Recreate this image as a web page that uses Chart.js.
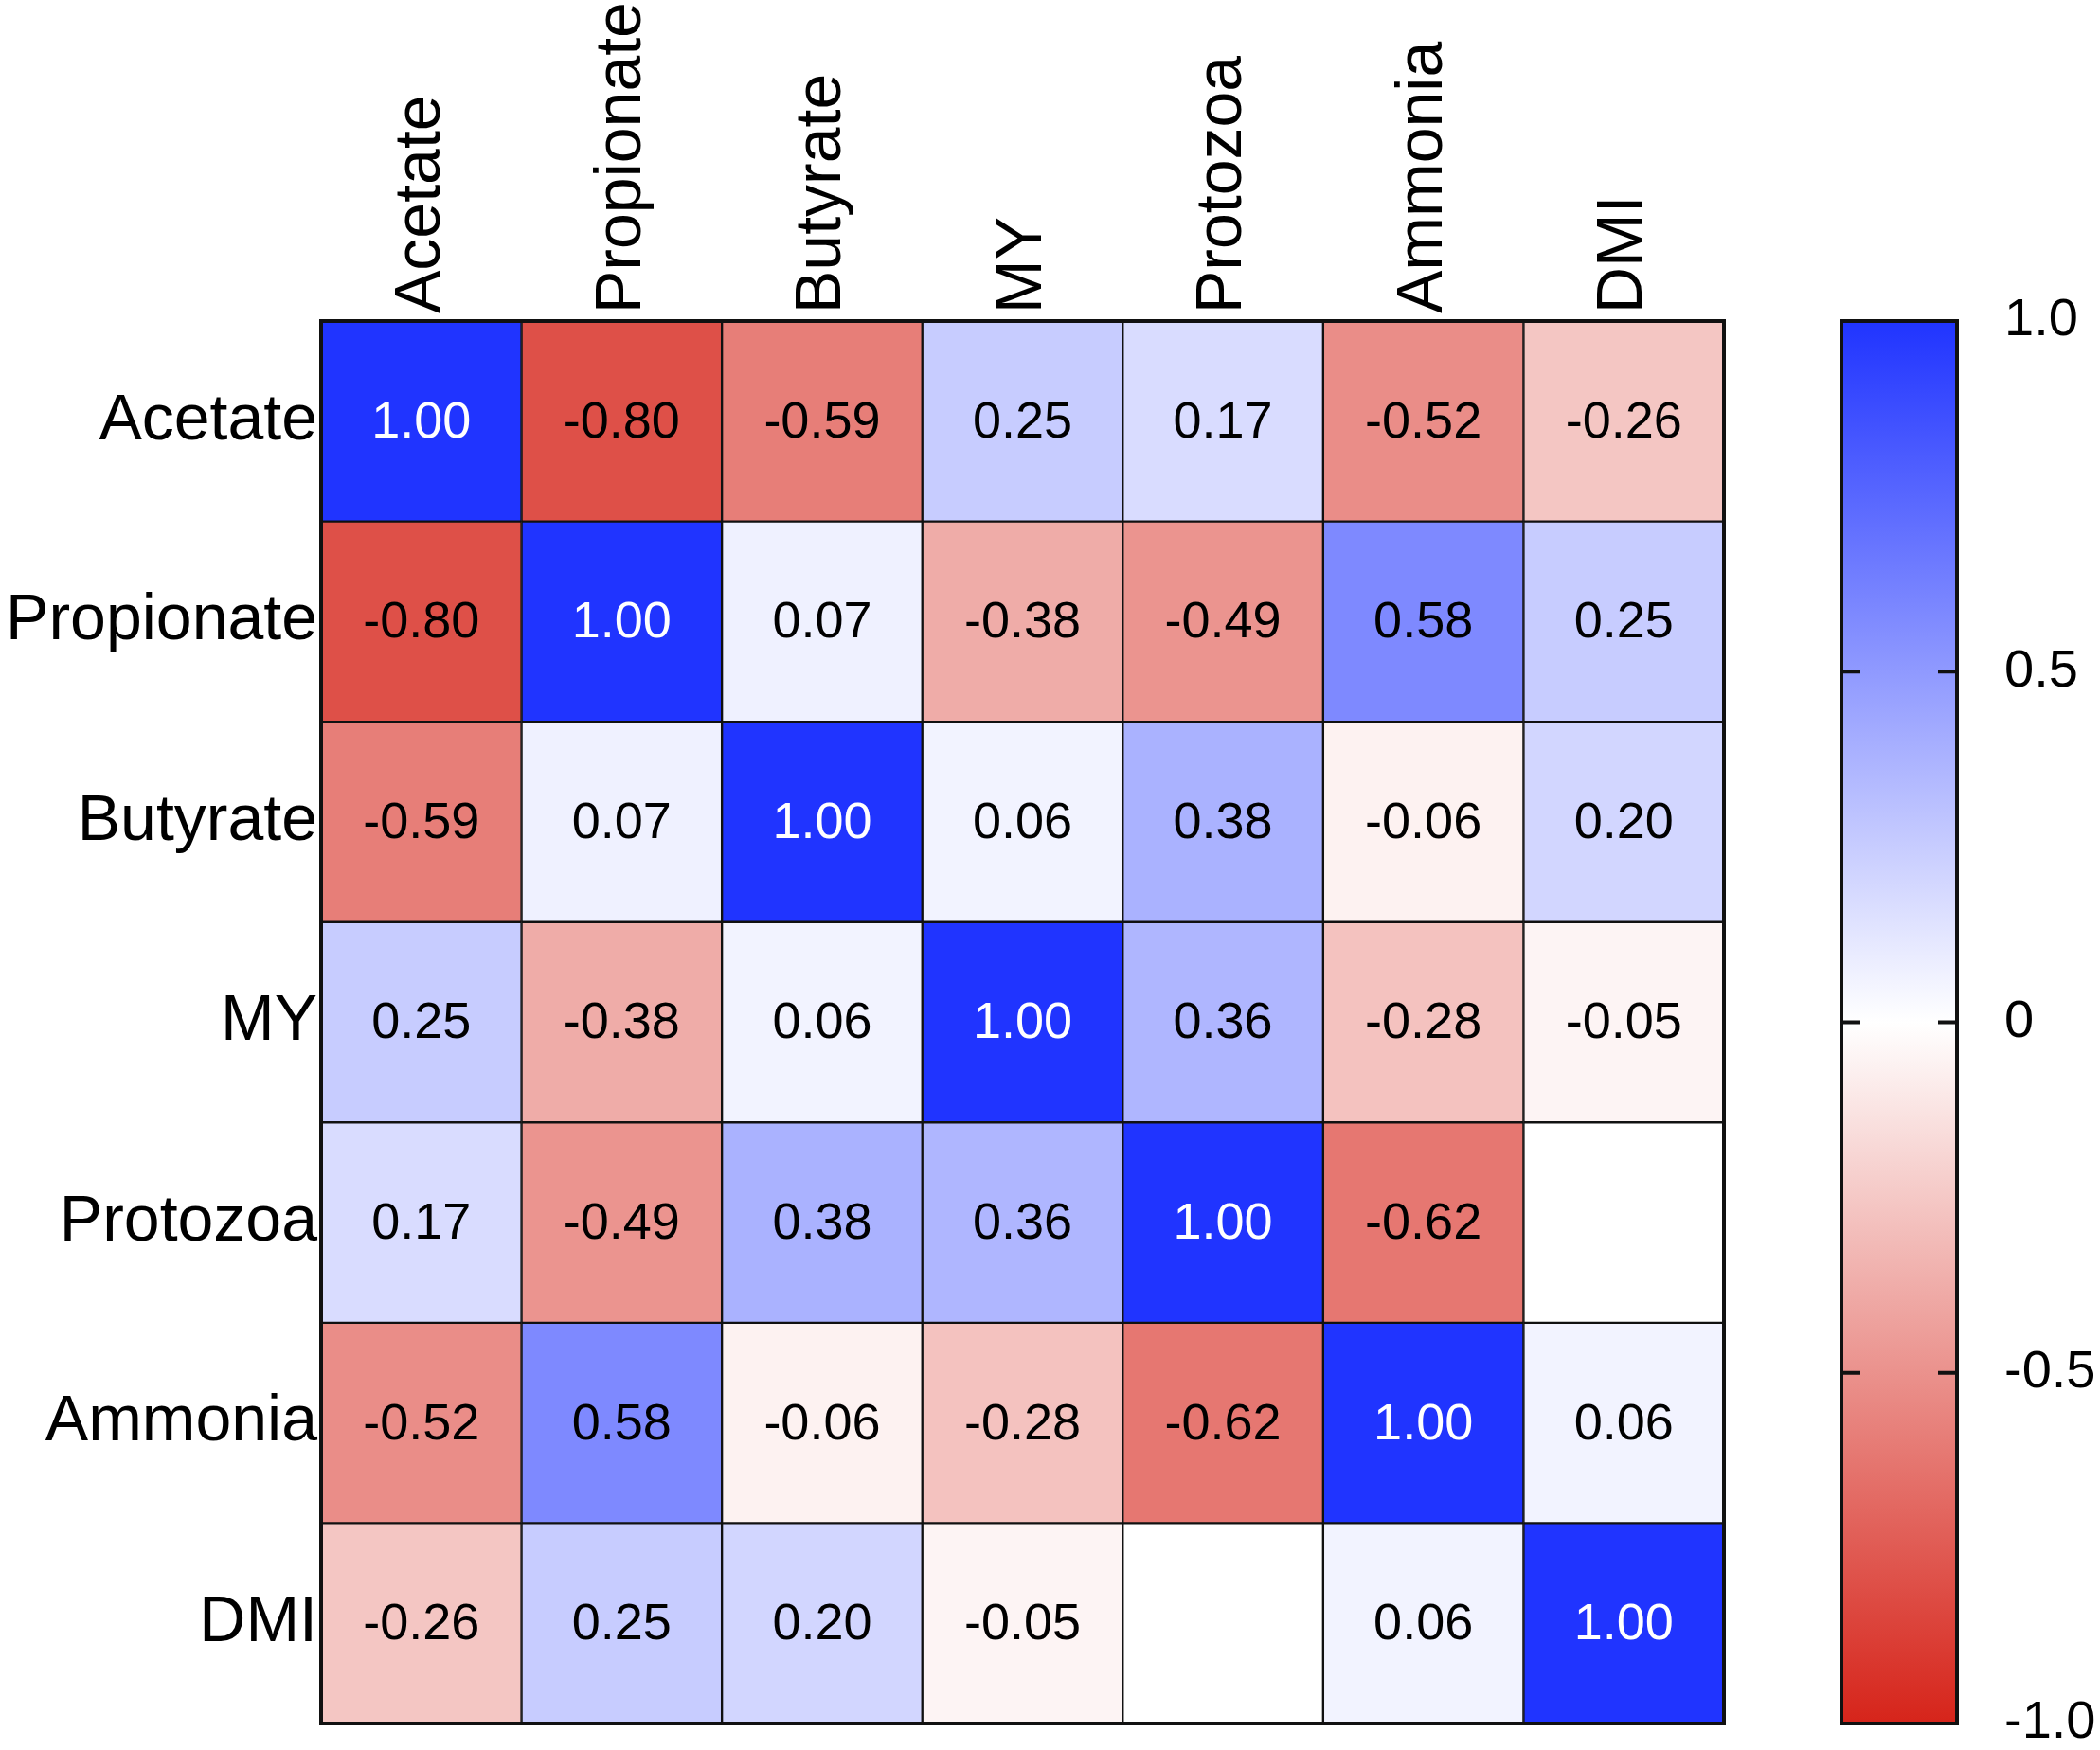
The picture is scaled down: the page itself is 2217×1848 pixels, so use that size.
<!DOCTYPE html>
<html>
<head>
<meta charset="utf-8">
<script src="https://cdn.jsdelivr.net/npm/chart.js@4.4.1/dist/chart.umd.min.js"></script>
<style>
  html, body { margin: 0; padding: 0; background: #fff; }
  #wrap { position: relative; width: 2217px; height: 1848px; }
</style>
</head>
<body>
<div id="wrap"><canvas id="corrChart"></canvas></div>
<script>
// variables, in the same order for rows and columns
const variables = ["Acetate", "Propionate", "Butyrate", "MY", "Protozoa", "Ammonia", "DMI"];

// correlation rows (null = cell left blank)
const acetateRow    = [1.00, -0.80, -0.59,  0.25,  0.17, -0.52, -0.26];
const propionateRow = [-0.80, 1.00,  0.07, -0.38, -0.49,  0.58,  0.25];
const butyrateRow   = [-0.59, 0.07,  1.00,  0.06,  0.38, -0.06,  0.20];
const myRow         = [0.25, -0.38,  0.06,  1.00,  0.36, -0.28, -0.05];
const protozoaRow   = [0.17, -0.49,  0.38,  0.36,  1.00, -0.62,  null];
const ammoniaRow    = [-0.52, 0.58, -0.06, -0.28, -0.62,  1.00,  0.06];
const dmiRow        = [-0.26, 0.25,  0.20, -0.05,  null,  0.06,  1.00];

const rows = [acetateRow, propionateRow, butyrateRow, myRow, protozoaRow, ammoniaRow, dmiRow];

// colour bar ticks
const scaleTicks = [-1, -0.5, 0, 0.5, 1];
const scaleTickLabels = ["-1.0", "-0.5", "0", "0.5", "1.0"];

const FONT = '"Liberation Sans", Arial, Helvetica, sans-serif';
const BLUE = [32, 52, 255];
const RED = [214, 36, 26];

function cellColor(v) {
  if (v === null) return '#ffffff';
  const end = v >= 0 ? BLUE : RED;
  const t = Math.min(Math.abs(v), 1);
  const c = end.map(e => Math.round(255 + (e - 255) * t));
  return `rgb(${c[0]},${c[1]},${c[2]})`;
}

// labels of the vertical axes must not push the plot area in
function noVerticalPadding(axis) {
  axis.paddingTop = 0;
  axis.paddingBottom = 0;
}

// bottom of the stack is the last row, so build datasets reversed
const datasets = rows.slice().reverse().map((row, i) => ({
  label: variables[rows.length - 1 - i],
  data: row.map(() => 1),
  values: row,
  backgroundColor: row.map(cellColor),
  borderColor: '#111',
  borderWidth: 1.5,
  borderSkipped: false,
  barPercentage: 1,
  categoryPercentage: 1
}));

// value labels in the cells
const cellLabels = {
  id: 'cellLabels',
  afterDatasetsDraw(chart) {
    const ctx = chart.ctx;
    ctx.save();
    ctx.font = `54px ${FONT}`;
    ctx.textAlign = 'center';
    ctx.textBaseline = 'middle';
    chart.data.datasets.forEach((ds, di) => {
      chart.getDatasetMeta(di).data.forEach((bar, i) => {
        const v = ds.values[i];
        if (v === null) return;
        ctx.fillStyle = v >= 0.9 ? '#ffffff' : '#000000';
        ctx.fillText(v.toFixed(2), bar.x, (bar.y + bar.base) / 2 + 2);
      });
    });
    // outer frame of the matrix
    const a = chart.chartArea;
    ctx.strokeStyle = '#111';
    ctx.lineWidth = 4;
    ctx.strokeRect(a.left, a.top, a.right - a.left, a.bottom - a.top);
    ctx.restore();
  }
};

// colour bar next to the matrix, on the y2 scale
const colorBar = {
  id: 'colorBar',
  afterDraw(chart) {
    const ctx = chart.ctx;
    const s = chart.scales.y2;
    const x0 = 1944, x1 = 2066;
    const top = s.getPixelForValue(1), bottom = s.getPixelForValue(-1);
    const g = ctx.createLinearGradient(0, top, 0, bottom);
    g.addColorStop(0, cellColor(1));
    g.addColorStop(0.5, '#ffffff');
    g.addColorStop(1, cellColor(-1));
    ctx.save();
    ctx.fillStyle = g;
    ctx.fillRect(x0, top, x1 - x0, bottom - top);
    ctx.strokeStyle = '#111';
    ctx.lineWidth = 4;
    ctx.strokeRect(x0, top, x1 - x0, bottom - top);
    scaleTicks.forEach(t => {
      const y = s.getPixelForValue(t);
      ctx.beginPath();
      ctx.moveTo(x0, y); ctx.lineTo(x0 + 20, y);
      ctx.moveTo(x1, y); ctx.lineTo(x1 - 20, y);
      ctx.stroke();
    });
    ctx.restore();
  }
};

new Chart(document.getElementById('corrChart'), {
  type: 'bar',
  data: { labels: variables, datasets: datasets },
  options: {
    responsive: true,
    maintainAspectRatio: false,
    animation: false,
    devicePixelRatio: 1,
    layout: { padding: { top: 0, bottom: 28, left: 0, right: 0 } },
    plugins: {
      legend: { display: false },
      tooltip: { enabled: false }
    },
    scales: {
      x: {
        position: 'top',
        stacked: true,
        grid: { display: false, drawTicks: false },
        border: { display: false },
        ticks: {
          color: '#000',
          font: { family: FONT, size: 68 },
          minRotation: 90,
          maxRotation: 90,
          padding: 8,
          labelOffset: 82
        },
        afterFit(axis) { axis.height = 339; }
      },
      y: {
        stacked: true,
        min: 0,
        max: 7,
        grid: { display: false, drawTicks: false },
        border: { display: false },
        afterBuildTicks(axis) {
          axis.ticks = variables.map((_, i) => ({ value: i + 0.5 }));
        },
        ticks: {
          color: '#000',
          font: { family: FONT, size: 68 },
          padding: 4,
          callback: (value) => variables[Math.floor(7 - value)]
        },
        afterFit(axis) { axis.width = 339; noVerticalPadding(axis); }
      },
      y2: {
        position: 'right',
        min: -1,
        max: 1,
        grid: { display: false, drawTicks: true, tickLength: 292 },
        border: { display: false },
        afterBuildTicks(axis) {
          axis.ticks = scaleTicks.map(v => ({ value: v }));
        },
        ticks: {
          color: '#000',
          font: { family: FONT, size: 56 },
          padding: 4,
          callback: (value) => scaleTickLabels[scaleTicks.indexOf(value)]
        },
        afterFit(axis) { axis.width = 397; noVerticalPadding(axis); }
      }
    }
  },
  plugins: [cellLabels, colorBar]
});
</script>
</body>
</html>
